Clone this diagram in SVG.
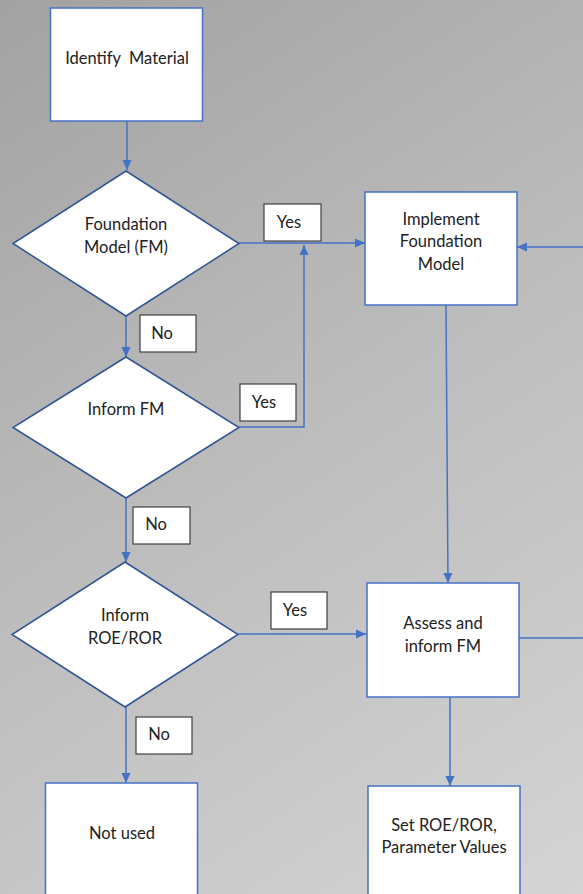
<svg xmlns="http://www.w3.org/2000/svg" width="583" height="894" viewBox="0 0 583 894">
<defs>
<linearGradient id="bg" x1="0" y1="0" x2="583" y2="894" gradientUnits="userSpaceOnUse">
<stop offset="0" stop-color="#a2a2a2"/>
<stop offset="0.5" stop-color="#bdbdbd"/>
<stop offset="1" stop-color="#d4d4d4"/>
</linearGradient>
<marker id="ah" markerUnits="userSpaceOnUse" markerWidth="10" markerHeight="10" viewBox="0 0 10 10" refX="10" refY="5" orient="auto">
<path d="M0,0.5 L10,5 L0,9.5 Z" fill="#4472c4"/>
</marker>
<style>
.box{fill:#fff;stroke:#4472c4;stroke-width:1.5}
.dia{fill:#fff;stroke:#2f5597;stroke-width:1.5}
.lbl{fill:#fff;stroke:#404040;stroke-width:1.2}
.c{fill:none;stroke:#4472c4;stroke-width:1.5}
text{font-family:Lato,"Liberation Sans",sans-serif;font-size:16.5px;fill:#222;text-anchor:middle;white-space:pre}
</style>
</defs>
<rect x="0" y="0" width="583" height="894" fill="url(#bg)"/>
<g id="connectors">
<path class="c" d="M127,121 V170" marker-end="url(#ah)"/>
<path class="c" d="M239,243 H365" marker-end="url(#ah)"/>
<path class="c" d="M239,427 H304 V245" marker-end="url(#ah)"/>
<path class="c" d="M519,638 H592 V247 H517" marker-end="url(#ah)"/>
<path class="c" d="M126,316 V357" marker-end="url(#ah)"/>
<path class="c" d="M446,305 L448,583" marker-end="url(#ah)"/>
<path class="c" d="M126,498 V562" marker-end="url(#ah)"/>
<path class="c" d="M238,634 H366" marker-end="url(#ah)"/>
<path class="c" d="M126,707 V783" marker-end="url(#ah)"/>
<path class="c" d="M450,697 V786" marker-end="url(#ah)"/>
</g>
<g id="identify">
<rect class="box" x="50.5" y="8" width="152" height="113"/>
<text x="127" y="64" xml:space="preserve">Identify  Material</text>
</g>
<g id="foundation-model">
<path class="dia" d="M126,171 L239,243.5 L126,316 L13,243.5 Z"/>
<text x="126" y="230">Foundation</text>
<text x="126" y="253">Model (FM)</text>
</g>
<g id="yes1">
<rect class="lbl" x="264" y="204" width="57" height="37"/>
<text x="289" y="227.5">Yes</text>
</g>
<g id="implement">
<rect class="box" x="365" y="192" width="152" height="113"/>
<text x="441" y="225">Implement</text>
<text x="441" y="247">Foundation</text>
<text x="441" y="270">Model</text>
</g>
<g id="no1">
<rect class="lbl" x="140" y="315" width="56" height="37"/>
<text x="162" y="338.5">No</text>
</g>
<g id="inform-fm">
<path class="dia" d="M126,357 L239,427.5 L126,498 L13,427.5 Z"/>
<text x="126" y="415">Inform FM</text>
</g>
<g id="yes2">
<rect class="lbl" x="240" y="384" width="56" height="37"/>
<text x="264" y="407.5">Yes</text>
</g>
<g id="no2">
<rect class="lbl" x="133" y="507" width="57" height="37"/>
<text x="156" y="529.5">No</text>
</g>
<g id="inform-roe">
<path class="dia" d="M125,562 L238,634.5 L125,707 L12,634.5 Z"/>
<text x="125" y="621">Inform</text>
<text x="125" y="644">ROE/ROR</text>
</g>
<g id="yes3">
<rect class="lbl" x="271" y="592" width="56" height="37"/>
<text x="295" y="615.5">Yes</text>
</g>
<g id="assess">
<rect class="box" x="367" y="583" width="152" height="114"/>
<text x="443" y="629">Assess and</text>
<text x="443" y="652">inform FM</text>
</g>
<g id="no3">
<rect class="lbl" x="136" y="717" width="56" height="37"/>
<text x="159" y="739.5">No</text>
</g>
<g id="not-used">
<rect class="box" x="45.5" y="783" width="152" height="130"/>
<text x="122" y="839">Not used</text>
</g>
<g id="set-roe">
<rect class="box" x="368" y="786" width="152" height="130"/>
<text x="444" y="831">Set ROE/ROR,</text>
<text x="444" y="853">Parameter Values</text>
</g>
</svg>
